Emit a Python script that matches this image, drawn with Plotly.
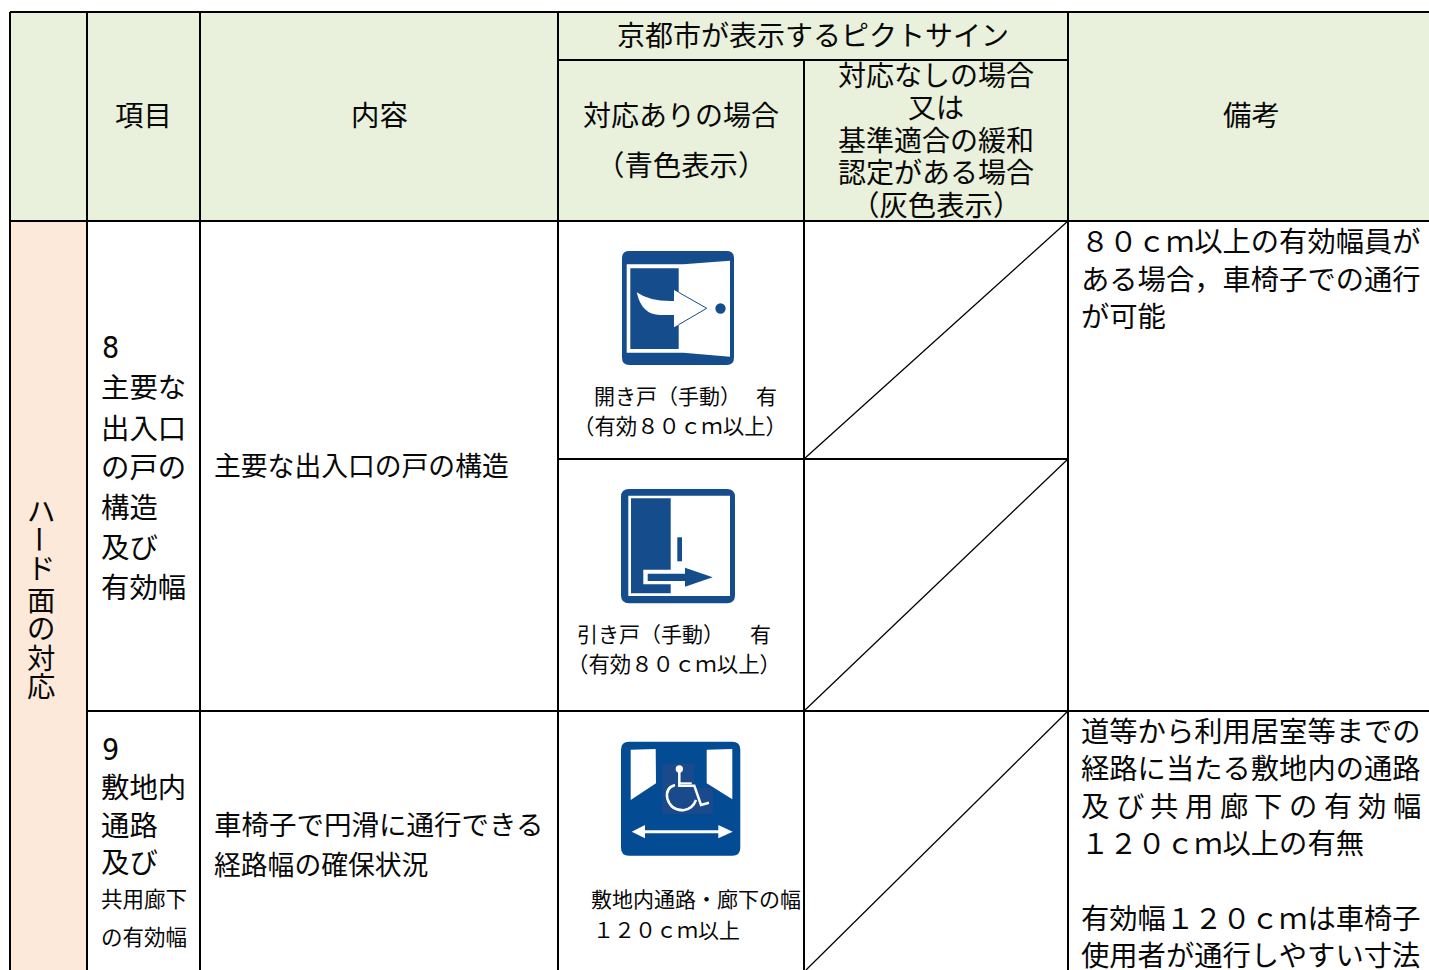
import plotly.graph_objects as go

FONT = "Noto Sans CJK JP"
NARROW = "DejaVu Sans Condensed, Liberation Sans"
INK = "#080808"
GREEN = "#e9f0dc"
ORANGE = "#fde9d9"
BLUE = "#154c8c"
BLUE3 = "#034b93"

# table grid (reference pixels)
col_x = [10, 87, 200, 558, 804, 1068, 1429]
top, head_mid, head_bot, row2, row3, bottom = 12, 60, 221, 459, 711, 970

# text: (string, x, y, size)
header_center = [
    ("項目", 143, 113, 28.4), ("内容", 379.5, 113, 28.4),
    ("京都市が表示するピクトサイン", 812.5, 34, 28),
    ("対応ありの場合", 680.5, 114, 28), ("（青色表示）", 680.5, 163, 28.4),
    ("対応なしの場合", 935.5, 74, 28), ("又は", 935.5, 106, 28),
    ("基準適合の緩和", 935.5, 139, 28), ("認定がある場合", 935.5, 171, 28),
    ("（灰色表示）", 935.5, 203, 28.4), ("備考", 1251, 113, 28.4),
]
side_chars = ["ハ", "ー", "ド", "面", "の", "対", "応"]
side_y = [509, 539, 566, 598, 626, 656, 684]
digit_text = [("8", 101, 347, 30), ("9", 101, 749, 30)]
left_text = [
    ("主要な", 100, 385, 28.4), ("出入口", 100, 426, 28.4),
    ("の戸の", 100, 465, 28.4), ("構造", 100, 505, 28.4), ("及び", 100, 545, 28.4),
    ("有効幅", 100, 585, 28.4),
    ("敷地内", 100, 785, 28.4), ("通路", 100, 823, 28.4),
    ("及び", 100, 860, 28.4), ("共用廊下", 100, 897, 21.5), ("の有効幅", 100, 935, 21.5),
    ("主要な出入口の戸の構造", 213, 464, 26.8),
    ("車椅子で円滑に通行できる", 213, 823, 27.5), ("経路幅の確保状況", 213, 863, 26.8),
    ("開き戸（手動）", 593, 395, 21), ("有", 755, 395, 21),
    ("（有効８０ｃｍ以上）", 572, 424, 21.4),
    ("引き戸（手動）", 576, 633, 21), ("有", 749, 633, 21),
    ("（有効８０ｃｍ以上）", 566, 662, 21.4),
    ("敷地内通路・廊下の幅", 590, 898, 21), ("１２０ｃｍ以上", 592, 929, 21),
    ("８０ｃｍ以上の有効幅員が", 1080, 239, 28.3), ("ある場合，車椅子での通行", 1080, 277, 28.3),
    ("が可能", 1080, 314, 28.3),
    ("道等から利用居室等までの", 1080, 729, 28.3), ("経路に当たる敷地内の通路", 1080, 766, 28.3),
    ("１２０ｃｍ以上の有無", 1080, 841, 28.3),
    ("有効幅１２０ｃｍは車椅子", 1080, 916, 28.3), ("使用者が通行しやすい寸法", 1080, 953, 28.3),
]
justified_chars = list("及び共用廊下の有効幅")
justified_x0, justified_x1, justified_y = 1080, 1392, 804


def rect(x0, y0, x1, y1, fill):
    return dict(type="rect", x0=x0, y0=y0, x1=x1, y1=y1, fillcolor=fill, line_width=0, layer="below")


def seg(x0, y0, x1, y1, w=2):
    return dict(type="line", x0=x0, y0=y0, x1=x1, y1=y1, line=dict(color="#000", width=w))


def poly(pts, org, fill=None, line=None, width=0, close=True):
    """pts use crop units (3 per pixel) relative to the icon origin."""
    ox, oy = org
    s = ""
    for i, p in enumerate(pts):
        if len(p) == 4:
            s += f" Q {ox+p[0]/3:.1f},{oy+p[1]/3:.1f} {ox+p[2]/3:.1f},{oy+p[3]/3:.1f}"
        else:
            s += f" {'M' if i == 0 else 'L'} {ox+p[0]/3:.1f},{oy+p[1]/3:.1f}"
    if close:
        s += " Z"
    d = dict(type="path", path=s.strip(), line=dict(width=width, color=line or "rgba(0,0,0,0)"))
    if fill:
        d["fillcolor"] = fill
    return d


def round_box(x0, y0, x1, y1, r, org, fill):
    return poly([(x0 + r, y0), (x1 - r, y0), (x1, y0, x1, y0 + r), (x1, y1 - r), (x1, y1, x1 - r, y1),
                 (x0 + r, y1), (x0, y1, x0, y1 - r), (x0, y0 + r), (x0, y0, x0 + r, y0)], org, fill)


shapes = [
    rect(col_x[0], top, col_x[-1], head_bot, GREEN),
    rect(col_x[0], head_bot, col_x[1], bottom, ORANGE),
]

# icon 1: hinged door
o1 = (600, 240)
shapes += [
    round_box(66, 33, 402, 375, 22, o1, BLUE),
    poly([(80, 73), (250, 73), (390, 62), (390, 350), (250, 338), (80, 338)], o1, "#fff"),
    poly([(91, 85), (236, 85), (236, 327), (91, 327)], o1, BLUE),
    poly([(110, 157), (150, 185, 222, 183), (222, 150), (320, 205), (222, 262), (222, 225), (180, 225),
          (125, 225, 110, 157)], o1, "#fff"),
    poly([(236, 157), (320, 205), (236, 254)], o1, None, BLUE, 1, close=False),
    dict(type="circle", x0=o1[0] + 346 / 3, x1=o1[0] + 377 / 3, y0=o1[1] + 190 / 3, y1=o1[1] + 221 / 3,
         fillcolor=BLUE, line_width=0),
]
# icon 2: sliding door
o2 = (600, 480)
shapes += [
    round_box(63, 27, 405, 370, 24, o2, BLUE),
    poly([(85, 47), (390, 47), (390, 348), (85, 348)], o2, "#fff"),
    poly([(93, 55), (212, 55), (212, 340), (93, 340)], o2, BLUE),
    poly([(232, 172), (246, 172), (246, 244), (232, 244)], o2, BLUE),
    poly([(130, 269), (230, 269), (230, 313), (130, 313)], o2, "#fff"),
    poly([(143, 281), (255, 281), (255, 263), (338, 292), (255, 320), (255, 303), (143, 303)], o2, BLUE),
]
# icon 3: passage width
o3 = (600, 735)
shapes += [
    round_box(63, 20, 421, 362, 24, o3, BLUE3),
    poly([(92, 44), (167, 42), (168, 145), (92, 195)], o3, "#fff"),
    poly([(320, 44), (397, 42), (397, 193), (320, 145)], o3, "#fff"),
    poly([(187, 86), (282, 86), (282, 158), (338, 158), (338, 238), (187, 238)], o3, "#1a4a8c"),
    dict(type="circle", x0=o3[0] + 227 / 3, x1=o3[0] + 249 / 3, y0=o3[1] + 91 / 3, y1=o3[1] + 113 / 3,
         fillcolor="#fff", line_width=0),
    poly([(238, 110), (238, 152), (283, 152), (303, 210), (327, 203)], o3, None, "#fff", 2.5, close=False),
    poly([(238, 145), (275, 145)], o3, None, "#fff", 2, close=False),
    poly([(225, 150), (196, 158, 202, 190), (212, 226, 250, 226), (278, 222, 288, 195)], o3, None, "#fff", 2.5,
         close=False),
    poly([(130, 290), (360, 290)], o3, None, "#fff", 3, close=False),
    poly([(95, 290), (135, 270), (135, 310)], o3, "#fff"),
    poly([(398, 290), (355, 270), (355, 310)], o3, "#fff"),
]

# grid: the column between the two pictogram columns starts under the merged header
for i, x in enumerate(col_x[:-1]):
    shapes.append(seg(x, head_mid if i == 4 else top, x, bottom))
shapes += [
    seg(col_x[0], top, col_x[-1], top),
    seg(col_x[3], head_mid, col_x[5], head_mid),
    seg(col_x[0], head_bot, col_x[-1], head_bot),
    seg(col_x[3], row2, col_x[5], row2),
    seg(col_x[1], row3, col_x[-1], row3),
    seg(col_x[4], row2, col_x[5], head_bot, 1.3),
    seg(col_x[4], row3, col_x[5], row2, 1.3),
    seg(col_x[4] + 2, bottom, col_x[5], row3, 1.3),
]


def label(t, x, y, size, anchor="left", angle=0, family=FONT):
    return dict(text=t, x=x, y=y, xref="x", yref="y", xanchor=anchor, yanchor="middle", showarrow=False,
                textangle=angle, borderpad=0, font=dict(family=family, size=size, color=INK))


ann = [label(t, x, y, s, "center") for t, x, y, s in header_center]
ann += [label(t, x, y, s) for t, x, y, s in left_text]
ann += [label(t, x, y, s, family=NARROW) for t, x, y, s in digit_text]
for c, y in zip(side_chars, side_y):
    ann.append(label(c, 41, y, 28.4, "center", 90 if c == "ー" else 0))
step = (justified_x1 - justified_x0) / (len(justified_chars) - 1)
for i, c in enumerate(justified_chars):
    ann.append(label(c, justified_x0 + i * step, justified_y, 28.3))

fig = go.Figure()
fig.add_trace(go.Scatter(x=[0, 1429], y=[0, 970], mode="markers", marker=dict(opacity=0), hoverinfo="skip",
                         showlegend=False))
fig.update_layout(
    width=1429, height=970, margin=dict(l=0, r=0, t=0, b=0), paper_bgcolor="#fff", plot_bgcolor="#fff",
    xaxis=dict(range=[0, 1429], visible=False, fixedrange=True),
    yaxis=dict(range=[970, 0], visible=False, fixedrange=True),
    shapes=shapes, annotations=ann, showlegend=False,
)
fig.write_html("out.html", config=dict(displayModeBar=False),
               post_script="document.body.style.margin='0';document.documentElement.style.overflow='hidden';")
